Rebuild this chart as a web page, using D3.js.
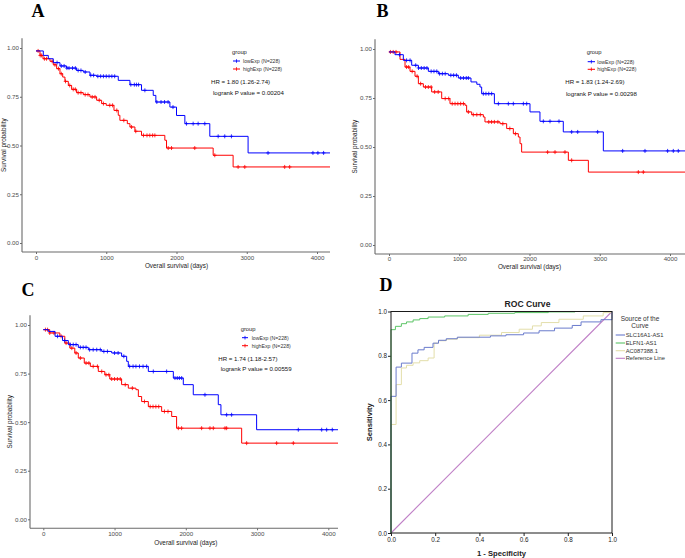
<!DOCTYPE html>
<html><head><meta charset="utf-8">
<script src="https://cdn.jsdelivr.net/npm/d3@7"></script>
<style>body{margin:0;background:#fff}svg{display:block}</style></head>
<body>
<svg id="c" width="685" height="558"></svg>
<script>
// ---------- DATA ----------
const kmTicksX = [0, 1000, 2000, 3000, 4000];
const kmTicksY = [0, 0.25, 0.5, 0.75, 1];
const rocTicks = [0, 0.2, 0.4, 0.6, 0.8, 1];
const groupLabels = ["lowExp (N=228)", "highExp (N=228)"];

// Panel A
const A_low = [[0,0.985],[104,0.962],[175,0.945],[246,0.925],[341,0.908],[436,0.897],[578,0.885],[673,0.877],[768,0.86],[863,0.855],[1171,0.834],[1337,0.812],[1502,0.783],[1669,0.757],[1706,0.723],[1906,0.697],[2000,0.654],[2119,0.612],[2474,0.547],[3019,0.462]];
const A_lowCens = [300,360,400,440,470,520,560,600,640,700,780,820,880,920,960,1000,1040,1080,1120,1350,1400,1430,1460,1550,1720,1780,1830,1880,1950,2142,2237,2308,2403,2593,2687,2782,3303,3942,4013,4094];
const A_high = [[0,0.985],[57,0.962],[100,0.945],[199,0.932],[246,0.914],[294,0.894],[341,0.868],[380,0.851],[412,0.829],[460,0.808],[507,0.788],[578,0.771],[673,0.761],[768,0.749],[863,0.732],[934,0.715],[1000,0.706],[1110,0.68],[1171,0.655],[1194,0.629],[1300,0.612],[1337,0.595],[1408,0.573],[1502,0.552],[1834,0.527],[1858,0.487],[2522,0.45],[2806,0.39]];
const A_highCens = [30,60,80,120,150,230,270,320,360,420,480,530,560,600,640,700,740,800,840,900,960,1050,1090,1150,1250,1360,1420,1530,1580,1620,1660,1692,1882,1929,2260,2545,2877,2972,3540,3611];
const A_stats = ["HR = 1.80 (1.26-2.74)", "logrank P value = 0.00204"];

// Panel B
const B_low = [[0,0.985],[85,0.971],[204,0.942],[323,0.917],[418,0.903],[560,0.886],[702,0.874],[845,0.866],[987,0.852],[1167,0.832],[1250,0.82],[1295,0.806],[1319,0.772],[1500,0.721],[2007,0.679],[2149,0.631],[2481,0.577],[3051,0.48]];
const B_lowCens = [150,250,300,380,420,460,500,540,600,640,680,720,760,800,880,920,960,1020,1060,1100,1130,1343,1380,1420,1461,1557,1699,1770,1913,1960,2197,2292,2420,2600,2686,2970,3326,3644,3966,4047,4118];
const B_high = [[0,0.985],[157,0.947],[228,0.908],[299,0.886],[370,0.861],[418,0.823],[489,0.806],[607,0.781],[750,0.747],[868,0.721],[1082,0.713],[1105,0.679],[1177,0.665],[1343,0.653],[1366,0.628],[1580,0.619],[1675,0.594],[1770,0.568],[1841,0.551],[1865,0.517],[1888,0.474],[2553,0.432],[2838,0.372]];
const B_highCens = [20,60,100,250,280,330,400,450,520,560,600,650,700,800,850,900,940,980,1020,1060,1130,1200,1250,1300,1420,1460,1500,1550,1620,1720,1800,2258,2363,2505,2600,3549,3620];
const B_stats = ["HR = 1.83 (1.24-2.69)", "logrank P value = 0.00298"];

// Panel C
const C_low = [[0,0.976],[70,0.967],[165,0.942],[270,0.92],[351,0.899],[491,0.885],[632,0.873],[820,0.864],[960,0.856],[1099,0.839],[1170,0.813],[1193,0.787],[1474,0.761],[1825,0.727],[1965,0.693],[2105,0.641],[2456,0.59],[2493,0.538],[2994,0.461]];
const C_lowCens = [200,300,380,420,460,520,560,600,650,700,750,800,850,900,1000,1050,1130,1212,1260,1300,1350,1400,1450,1544,1731,1848,1880,1910,1942,2269,2573,2643,3579,3907,3977,4056];
const C_high = [[0,0.976],[90,0.959],[232,0.942],[302,0.907],[372,0.881],[442,0.856],[491,0.83],[575,0.804],[660,0.787],[772,0.761],[863,0.744],[933,0.722],[1099,0.693],[1193,0.675],[1300,0.667],[1334,0.632],[1380,0.606],[1474,0.58],[1661,0.555],[1802,0.529],[1871,0.469],[2784,0.392]];
const C_highCens = [30,60,90,150,250,320,400,460,520,600,640,700,760,820,880,920,960,1000,1040,1080,1150,1250,1420,1500,1540,1580,1620,1700,1750,1895,1941,2222,2339,2386,2550,2573,2854,3275,3509];
const C_stats = ["HR = 1.74 (1.18-2.57)", "logrank P value = 0.00559"];

// Panel D (ROC)
const rocNames = ["SLC16A1-AS1", "ELFN1-AS1", "AC087388.1", "Reference Line"];
const roc_SLC = [[0,0],[0,0.617],[0.023,0.749],[0.047,0.767],[0.095,0.812],[0.122,0.827],[0.15,0.838],[0.19,0.857],[0.215,0.87],[0.25,0.877],[0.3,0.884],[0.45,0.89],[0.52,0.895],[0.6,0.903],[0.67,0.913],[0.74,0.925],[0.82,0.937],[0.86,0.953],[0.95,0.963],[1,0.968],[1,1]];
const roc_ELFN = [[0,0],[0,0.918],[0.02,0.933],[0.047,0.945],[0.07,0.953],[0.1,0.962],[0.13,0.968],[0.168,0.975],[0.243,0.98],[0.349,0.987],[0.44,0.992],[0.56,0.995],[0.712,0.998],[0.833,1],[1,1]];
const roc_AC = [[0,0],[0,0.49],[0.023,0.67],[0.047,0.745],[0.07,0.757],[0.1,0.768],[0.13,0.778],[0.168,0.79],[0.195,0.857],[0.215,0.868],[0.25,0.875],[0.3,0.882],[0.4,0.893],[0.5,0.905],[0.58,0.92],[0.64,0.935],[0.68,0.95],[0.76,0.965],[0.87,0.98],[0.96,0.995],[1,1]];
const roc_ref = [[0,0],[1,1]];

// ---------- DRAWING ----------
const svg = d3.select("#c");
svg.append("rect").attr("width",685).attr("height",558).attr("fill","#fff");
const SANS = "'Liberation Sans', Arial, sans-serif";
const SERIF = "'Liberation Serif', 'Times New Roman', serif";
const KM_BLUE = "#0000ff", KM_RED = "#ff0000", AX = "#6a6a6a";

function sAt(curve, t){ let s = curve[0][1]; for (const p of curve){ if (p[0] <= t) s = p[1]; } return s; }

function drawKM(c){
  const g = svg.append("g");
  const x = d3.scaleLinear().domain([0,4000]).range([c.x0, c.x4000]);
  const y = d3.scaleLinear().domain([0,1]).range([c.y0, c.y1]);
  const tMax = x.invert(c.right);
  const ax = g.append("g").attr("transform",`translate(0,${c.bottom})`)
    .call(d3.axisBottom(x).tickValues(kmTicksX).tickFormat(d3.format("d")).tickSize(2).tickPadding(c.xPad));
  const ay = g.append("g").attr("transform",`translate(${c.left},0)`)
    .call(d3.axisLeft(y).tickValues(kmTicksY).tickFormat(d3.format(".2f")).tickSize(2).tickPadding(1));
  [ax, ay].forEach(a=>{
    a.select(".domain").remove();
    a.selectAll("line").attr("stroke",AX);
    a.selectAll("text").attr("fill","#4d4d4d").style("font-family",SANS).style("font-size","6.2px");
  });
  g.append("line").attr("x1",c.left).attr("x2",c.left).attr("y1",y(1.05)).attr("y2",c.bottom).attr("stroke",AX).attr("stroke-width",1.1);
  g.append("line").attr("x1",c.left).attr("x2",c.right).attr("y1",c.bottom).attr("y2",c.bottom).attr("stroke",AX).attr("stroke-width",1.1);
  g.append("text").attr("x",(c.x0+c.x4000)/2).attr("y",c.xTitleY).attr("text-anchor","middle")
    .style("font-family",SANS).style("font-size","6.4px").attr("fill","#222").text("Overall survival (days)");
  g.append("text").attr("transform",`translate(${c.yTitleX},${(y(1.05)+c.bottom)/2}) rotate(-90)`).attr("text-anchor","middle").attr("dy","0.35em")
    .style("font-family",SANS).style("font-size","6.4px").attr("fill","#222").text("Survival probability");
  const line = d3.line().x(d=>x(d[0])).y(d=>y(d[1])).curve(d3.curveStepAfter);
  const series = [{d:c.high, cens:c.highC, col:KM_RED},{d:c.low, cens:c.lowC, col:KM_BLUE}];
  series.forEach(s=>{
    const pts = s.d.concat([[tMax, s.d[s.d.length-1][1]]]);
    g.append("path").attr("d",line(pts)).attr("fill","none").attr("stroke",s.col).attr("stroke-width",1);
    const cg = g.append("g").attr("stroke",s.col).attr("stroke-width",0.8);
    s.cens.forEach(t=>{
      const px = x(t), py = y(sAt(s.d,t));
      cg.append("line").attr("x1",px).attr("x2",px).attr("y1",py-2).attr("y2",py+2);
      cg.append("line").attr("x1",px-1.8).attr("x2",px+1.8).attr("y1",py).attr("y2",py);
    });
  });
  g.append("text").attr("x",c.lg[0]).attr("y",c.lg[1]).attr("dy","0.35em").style("font-family",SANS)
    .style("font-size","5.8px").attr("fill","#222").text("group");
  [KM_BLUE, KM_RED].forEach((col,i)=>{
    const yi = c.items[i];
    g.append("line").attr("x1",c.lineX[0]).attr("x2",c.lineX[1]).attr("y1",yi).attr("y2",yi).attr("stroke",col).attr("stroke-width",1);
    const mx = (c.lineX[0]+c.lineX[1])/2;
    g.append("line").attr("x1",mx).attr("x2",mx).attr("y1",yi-1.8).attr("y2",yi+1.8).attr("stroke",col).attr("stroke-width",0.8);
    g.append("text").attr("x",c.textX).attr("y",yi).attr("dy","0.35em").style("font-family",SANS)
      .style("font-size","5.2px").attr("fill","#333").text(groupLabels[i]);
  });
  g.append("text").attr("x",c.hr[0]).attr("y",c.hr[1]).attr("dy","0.35em").style("font-family",SANS)
    .style("font-size","6.1px").attr("fill","#111").text(c.stats[0]);
  g.append("text").attr("x",c.lr[0]).attr("y",c.lr[1]).attr("dy","0.35em").style("font-family",SANS)
    .style("font-size","6.1px").attr("fill","#111").text(c.stats[1]);
  svg.append("text").attr("x",c.letter[0]).attr("y",c.letter[1]).style("font-family",SERIF).style("font-weight","bold")
    .style("font-size","18px").attr("fill","#000").text(c.name);
}

drawKM({name:"A", low:A_low, high:A_high, lowC:A_lowCens, highC:A_highCens, stats:A_stats,
  x0:36, x4000:317, y0:243, y1:48, left:22, right:330, bottom:252, xPad:1.5, xTitleY:268, yTitleX:4,
  items:[61,69], lg:[232,52], lineX:[233,240], textX:243, hr:[211,82], lr:[213,93], letter:[31.5,16.5]});
drawKM({name:"B", low:B_low, high:B_high, lowC:B_lowCens, highC:B_highCens, stats:B_stats,
  x0:389, x4000:670, y0:245, y1:49, left:375, right:685, bottom:254, xPad:1, xTitleY:269, yTitleX:355,
  items:[61.7,69.3], lg:[586.7,51.7], lineX:[587.7,595], textX:597.3, hr:[565.3,82.3], lr:[566,93.7], letter:[376.5,16.5]});
drawKM({name:"C", low:C_low, high:C_high, lowC:C_lowCens, highC:C_highCens, stats:C_stats,
  x0:43.3, x4000:328.3, y0:519.3, y1:325, left:30, right:338, bottom:528.3, xPad:1.5, xTitleY:544.5, yTitleX:10,
  items:[337.7,345.7], lg:[240.7,329.3], lineX:[242,248], textX:251.7, hr:[218.3,359.3], lr:[220.7,369.3], letter:[21.5,296]});

// ROC panel
(function(){
  const g = svg.append("g");
  const L=391, R=612, T=311.5, B=533;
  const x = d3.scaleLinear().domain([0,1]).range([L,R]);
  const y = d3.scaleLinear().domain([0,1]).range([B,T]);
  const ax = g.append("g").attr("transform",`translate(0,${B})`)
    .call(d3.axisBottom(x).tickValues(rocTicks).tickFormat(d3.format(".1f")).tickSize(3).tickPadding(1.5));
  const ay = g.append("g").attr("transform",`translate(${L},0)`)
    .call(d3.axisLeft(y).tickValues(rocTicks).tickFormat(d3.format(".1f")).tickSize(3).tickPadding(1));
  [ax,ay].forEach(a=>{
    a.select(".domain").remove();
    a.selectAll("line").attr("stroke","#222");
    a.selectAll("text").attr("fill","#222").style("font-family",SANS).style("font-size","6.3px");
  });
  const line = d3.line().x(d=>x(d[0])).y(d=>y(d[1])).curve(d3.curveStepAfter);
  const cols = ["#6a7bcc","#5cc466","#e3deaa","#bf7fc6"];
  g.append("path").attr("d",d3.line().x(d=>x(d[0])).y(d=>y(d[1]))(roc_ref)).attr("fill","none").attr("stroke",cols[3]).attr("stroke-width",1.1);
  const rocs = [roc_AC, roc_SLC, roc_ELFN];
  const rc = [cols[2], cols[0], cols[1]];
  rocs.forEach((r,i)=>{
    g.append("path").attr("d",line(r)).attr("fill","none").attr("stroke",rc[i]).attr("stroke-width",1);
  });
  g.append("rect").attr("x",L).attr("y",T).attr("width",R-L).attr("height",B-T).attr("fill","none").attr("stroke","#1a1a1a").attr("stroke-width",1);
  g.append("text").attr("x",527.5).attr("y",304).attr("dy","0.35em").attr("text-anchor","middle")
    .style("font-family",SANS).style("font-weight","bold").style("font-size","8.6px").attr("fill","#222").text("ROC Curve");
  g.append("text").attr("x",(L+R)/2).attr("y",553.3).attr("dy","0.35em").attr("text-anchor","middle")
    .style("font-family",SANS).style("font-weight","bold").style("font-size","7.6px").attr("fill","#222").text("1 - Specificity");
  g.append("text").attr("transform",`translate(369.3,${(T+B)/2}) rotate(-90)`).attr("dy","0.35em").attr("text-anchor","middle")
    .style("font-family",SANS).style("font-weight","bold").style("font-size","7.6px").attr("fill","#222").text("Sensitivity");
  g.append("text").attr("x",640).attr("y",318.3).attr("dy","0.35em").attr("text-anchor","middle")
    .style("font-family",SANS).style("font-size","6.5px").attr("fill","#333").text("Source of the");
  g.append("text").attr("x",640).attr("y",325.7).attr("dy","0.35em").attr("text-anchor","middle")
    .style("font-family",SANS).style("font-size","6.5px").attr("fill","#333").text("Curve");
  const ly = [335,343,350.7,358.3];
  rocNames.forEach((n,i)=>{
    g.append("line").attr("x1",615.7).attr("x2",625).attr("y1",ly[i]).attr("y2",ly[i]).attr("stroke",cols[i]).attr("stroke-width",1.1);
    g.append("text").attr("x",625.7).attr("y",ly[i]).attr("dy","0.35em").style("font-family",SANS)
      .style("font-size","5.8px").attr("fill","#333").text(n);
  });
  svg.append("text").attr("x",379.5).attr("y",291).style("font-family",SERIF).style("font-weight","bold")
    .style("font-size","18px").attr("fill","#000").text("D");
})();
</script>
</body></html>
